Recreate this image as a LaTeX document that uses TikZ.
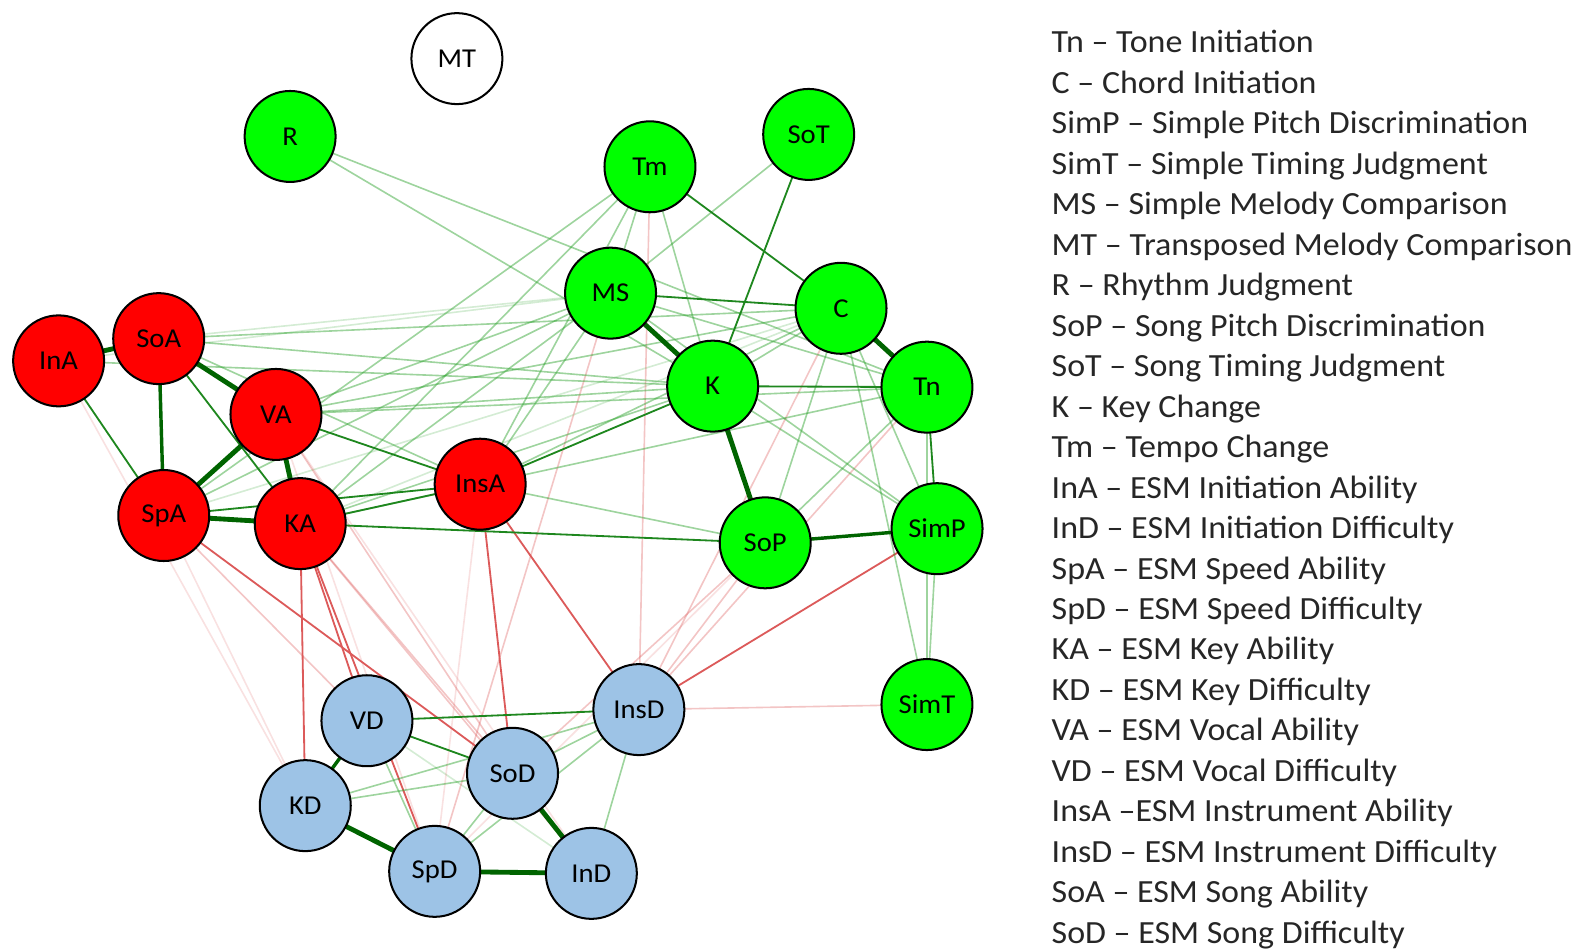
\documentclass[tikz,border=0pt]{standalone}
\usepackage{fontspec}
\setmainfont{Carlito}
\newfontfamily\legfont[FakeStretch=1.05]{Carlito}
\usetikzlibrary{backgrounds}
\definecolor{ngreen}{RGB}{0,255,0}
\definecolor{nred}{RGB}{255,0,0}
\definecolor{nblue}{RGB}{157,195,230}
\definecolor{edark}{RGB}{0,100,0}
\definecolor{emid}{RGB}{30,135,30}
\definecolor{elight}{RGB}{40,160,40}
\definecolor{ered}{RGB}{220,90,90}
\newcommand\edg[3]{\draw[#1] (#2.center) -- (#3.center);}
\begin{document}
\begin{tikzpicture}[x=0.5pt,y=-0.5pt,
  vtx/.style={circle,draw=black,line width=1pt,minimum size=45pt,inner sep=0pt,
    font=\legfont\fontsize{13.5}{15}\selectfont},
  gv/.style={vtx,fill=ngreen},
  rv/.style={vtx,fill=nred},
  bv/.style={vtx,fill=nblue},
  wv/.style={vtx,fill=white},
  pA/.style={draw=edark,line width=2.4pt},
  pAB/.style={draw=edark,line width=1.7pt},
  pB/.style={draw=emid,line width=0.9pt},
  pC/.style={draw=elight,line width=0.8pt,draw opacity=0.45},
  pD/.style={draw=elight,line width=0.8pt,draw opacity=0.2},
  nB/.style={draw=ered,line width=0.9pt},
  nC/.style={draw=ered,line width=0.8pt,draw opacity=0.35},
  nD/.style={draw=ered,line width=0.8pt,draw opacity=0.18},
  legend/.style={anchor=base west,inner sep=0pt,font=\legfont\fontsize{16}{18}\selectfont,text=black!85}]
\useasboundingbox (0,0) rectangle (1568,941);

% nodes
\node[wv] (MT) at (452,58) {MT};
\node[gv] (R) at (287,135) {R};
\node[gv] (Tm) at (643,165) {Tm};
\node[gv] (SoT) at (800,133) {SoT};
\node[gv] (MS) at (604,290) {MS};
\node[gv] (C) at (832,305) {C};
\node[gv] (K) at (705,382) {K};
\node[gv] (Tn) at (917,383) {Tn};
\node[gv] (SoP) at (757,537) {SoP};
\node[gv] (SimP) at (927,523) {SimP};
\node[gv] (SimT) at (917,697) {SimT};
\node[rv] (InA) at (58,357) {InA};
\node[rv] (SoA) at (157,335) {SoA};
\node[rv] (VA) at (273,410) {VA};
\node[rv] (SpA) at (162,510) {SpA};
\node[rv] (KA) at (297,518) {KA};
\node[rv] (InsA) at (475,479) {InsA};
\node[bv] (InsD) at (632,702) {InsD};
\node[bv] (VD) at (363,713) {VD};
\node[bv] (SoD) at (507,765) {SoD};
\node[bv] (KD) at (302,797) {KD};
\node[bv] (SpD) at (430,862) {SpD};
\node[bv] (InD) at (585,864) {InD};

\begin{pgfonlayer}{background}
% very light
\edg{pD}{SoA}{MS}
\edg{pD}{InA}{MS}
\edg{pD}{VD}{InD}
\edg{pD}{SpA}{C}
\edg{pD}{KA}{C}
\edg{nD}{InA}{KD}
\edg{nD}{SpA}{KD}
\edg{nD}{VA}{SpD}
\edg{nD}{InsA}{SpD}
\edg{nD}{VA}{InD}
\edg{nD}{SoP}{SpD}
% light red
\edg{nC}{Tm}{InsD}
\edg{nC}{MS}{SpD}
\edg{nC}{SoP}{InsD}
\edg{nC}{Tn}{InsD}
\edg{nC}{SimT}{InsD}
\edg{nC}{SpA}{VD}
\edg{nC}{VA}{SoD}
\edg{nC}{KA}{SoD}
\edg{nC}{KA}{InD}
\edg{nC}{SoP}{SoD}
\edg{nC}{C}{InsD}
% red
\edg{nB}{KA}{KD}
\edg{nB}{InsA}{SoD}
\edg{nB}{SpA}{SoD}
\edg{nB}{InsA}{InsD}
\edg{nB}{SimP}{InsD}
\edg{nB}{KA}{SpD}
\edg{nB}{KA}{VD}
% light green
\edg{pC}{SoT}{MS}
\edg{pC}{Tm}{MS}
\edg{pC}{Tm}{K}
\edg{pC}{MS}{Tn}
\edg{pC}{K}{C}
\edg{pC}{K}{SimP}
\edg{pC}{MS}{SimP}
\edg{pC}{C}{SimP}
\edg{pC}{C}{SimT}
\edg{pC}{SimP}{SimT}
\edg{pC}{Tn}{SimT}
\edg{pC}{C}{SoP}
\edg{pC}{R}{K}
\edg{pC}{R}{Tn}
\edg{pC}{VA}{MS}
\edg{pC}{VA}{K}
\edg{pC}{VA}{C}
\edg{pC}{VA}{Tn}
\edg{pC}{KA}{MS}
\edg{pC}{KA}{K}
\edg{pC}{KA}{Tn}
\edg{pC}{SpA}{MS}
\edg{pC}{SpA}{Tm}
\edg{pC}{KA}{Tm}
\edg{pC}{InsA}{MS}
\edg{pC}{InsA}{Tm}
\edg{pC}{InsA}{C}
\edg{pC}{InsA}{SoP}
\edg{pC}{SoA}{C}
\edg{pC}{SoA}{K}
\edg{pC}{InA}{K}
\edg{pC}{SoA}{InsA}
\edg{pC}{Tn}{SoP}
\edg{pC}{KD}{InsD}
\edg{pC}{SoD}{InsD}
\edg{pC}{SpD}{InsD}
\edg{pC}{SpD}{SoD}
\edg{pC}{InsD}{InD}
\edg{pC}{VD}{SpD}
\edg{pC}{KD}{SoD}
% medium green
\edg{pB}{InA}{SpA}
\edg{pB}{SoA}{KA}
\edg{pB}{Tm}{C}
\edg{pB}{Tn}{SimP}
\edg{pB}{VD}{InsD}
\edg{pB}{VD}{SoD}
\edg{pB}{K}{Tn}
\edg{pB}{MS}{C}
\edg{pB}{KA}{InsA}
\edg{pB}{SpA}{InsA}
\edg{pB}{VA}{InsA}
\edg{pB}{SoT}{K}
\edg{pB}{InsA}{K}
\edg{pB}{KA}{SoP}
% thick
\edg{pA}{InA}{SoA}
\edg{pA}{SpA}{KA}
\edg{pA}{MS}{K}
\edg{pA}{K}{SoP}
\edg{pA}{C}{Tn}
\edg{pA}{KD}{SpD}
\edg{pA}{SpD}{InD}
\edg{pA}{SoD}{InD}
\edg{pA}{VA}{KA}
\edg{pA}{VA}{SpA}
\edg{pA}{SoA}{VA}
\edg{pAB}{SoA}{SpA}
\edg{pAB}{SoP}{SimP}
\edg{pAB}{VD}{KD}
\end{pgfonlayer}

% legend
\node[legend] (L1) at (1040,52.4) {Tn – Tone Initiation};
\node[legend] (L2) at (1040,92.4) {C – Chord Initiation};
\node[legend] (L3) at (1040,132.5) {SimP – Simple Pitch Discrimination};
\node[legend] (L4) at (1040,172.5) {SimT – Simple Timing Judgment};
\node[legend] (L5) at (1040,212.5) {MS – Simple Melody Comparison};
\node[legend] (L6) at (1040,252.6) {MT – Transposed Melody Comparison};
\node[legend] (L7) at (1040,292.6) {R – Rhythm Judgment};
\node[legend] (L8) at (1040,332.6) {SoP – Song Pitch Discrimination};
\node[legend] (L9) at (1040,372.6) {SoT – Song Timing Judgment};
\node[legend] (L10) at (1040,412.7) {K – Key Change};
\node[legend] (L11) at (1040,452.7) {Tm – Tempo Change};
\node[legend] (L12) at (1040,492.7) {InA – ESM Initiation Ability};
\node[legend] (L13) at (1040,532.8) {InD – ESM Initiation Difficulty};
\node[legend] (L14) at (1040,572.8) {SpA – ESM Speed Ability};
\node[legend] (L15) at (1040,612.8) {SpD – ESM Speed Difficulty};
\node[legend] (L16) at (1040,652.9) {KA – ESM Key Ability};
\node[legend] (L17) at (1040,692.9) {KD – ESM Key Difficulty};
\node[legend] (L18) at (1040,732.9) {VA – ESM Vocal Ability};
\node[legend] (L19) at (1040,773.0) {VD – ESM Vocal Difficulty};
\node[legend] (L20) at (1040,813.0) {InsA –ESM Instrument Ability};
\node[legend] (L21) at (1040,853.0) {InsD – ESM Instrument Difficulty};
\node[legend] (L22) at (1040,893.0) {SoA – ESM Song Ability};
\node[legend] (L23) at (1040,933.0) {SoD – ESM Song Difficulty};
\end{tikzpicture}
\end{document}
